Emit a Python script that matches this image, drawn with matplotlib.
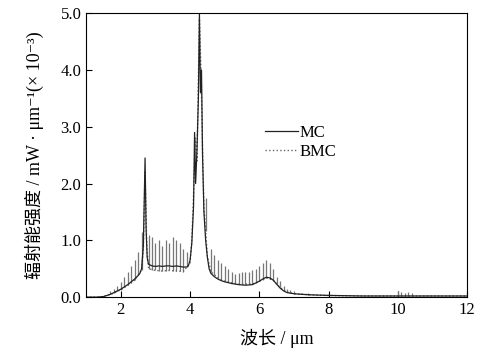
import numpy as np
import matplotlib
matplotlib.use("Agg")
import matplotlib.pyplot as plt

plt.rcParams["font.family"] = ["Liberation Serif", "Noto Sans CJK SC", "DejaVu Serif"]

# MC curve (um, x1e-3 mW/um)
mc_x = [1.0, 1.3, 1.5, 1.6, 1.7, 1.8, 1.9, 2.0, 2.1, 2.2, 2.3, 2.4, 2.5, 2.55, 2.6, 2.65,
        2.7, 2.73, 2.76, 2.8, 2.9, 3.0, 3.1, 3.2, 3.3, 3.4, 3.5, 3.6, 3.7, 3.8, 3.9, 3.95,
        4.0, 4.05, 4.1, 4.13, 4.16, 4.2, 4.24, 4.27, 4.3, 4.33, 4.36, 4.4, 4.45, 4.5, 4.55,
        4.6, 4.7, 4.8, 4.9, 5.0, 5.2, 5.4, 5.6, 5.8, 5.9, 6.0, 6.1, 6.2, 6.3, 6.4, 6.5,
        6.6, 6.7, 6.8, 7.0, 7.2, 7.5, 8.0, 8.5, 9.0, 9.5, 10.0, 10.5, 11.0, 11.5, 12.0]
mc_y = [0.0, 0.0, 0.01, 0.03, 0.05, 0.08, 0.11, 0.14, 0.18, 0.22, 0.27, 0.32, 0.38, 0.42, 0.5, 0.9,
        2.45, 1.2, 0.7, 0.58, 0.55, 0.54, 0.55, 0.54, 0.55, 0.55, 0.54, 0.55, 0.54, 0.53, 0.53, 0.55,
        0.65, 0.95, 1.6, 2.9, 2.0, 2.6, 3.5, 5.0, 3.6, 4.0, 2.5, 1.5, 1.0, 0.7, 0.5,
        0.42, 0.36, 0.32, 0.29, 0.27, 0.24, 0.22, 0.21, 0.22, 0.25, 0.28, 0.32, 0.35, 0.34, 0.3, 0.23,
        0.16, 0.11, 0.08, 0.06, 0.05, 0.04, 0.03, 0.025, 0.02, 0.02, 0.02, 0.02, 0.02, 0.02, 0.02]

# BMC curve
bmc_x = [1.0, 1.4, 1.6, 1.8, 2.0, 2.2, 2.4, 2.6, 2.65, 2.7, 2.75, 2.8, 3.0, 3.2, 3.4, 3.6, 3.8, 4.0,
         4.05, 4.1, 4.15, 4.2, 4.27, 4.32, 4.36, 4.4, 4.5, 4.6, 4.8, 5.0, 5.4, 5.8, 6.0, 6.2,
         6.4, 6.6, 6.8, 7.0, 7.5, 8.0, 9.0, 10.0, 11.0, 12.0]
bmc_y = [0.0, 0.0, 0.03, 0.07, 0.13, 0.21, 0.3, 0.48, 0.85, 2.2, 0.9, 0.5, 0.47, 0.46, 0.47, 0.46, 0.45, 0.6,
         1.0, 1.8, 2.8, 2.4, 4.9, 3.9, 2.6, 1.6, 0.72, 0.45, 0.34, 0.28, 0.23, 0.23, 0.28, 0.34,
         0.3, 0.17, 0.09, 0.06, 0.04, 0.03, 0.02, 0.02, 0.02, 0.02]

# BMC spike tops
spike_x = [1.7, 1.8, 1.9, 2.0, 2.1, 2.2, 2.3, 2.4, 2.5, 2.6, 2.8, 2.9, 3.0, 3.1, 3.2, 3.3, 3.4,
           3.5, 3.6, 3.7, 3.8, 3.9, 4.45, 4.6, 4.7, 4.8, 4.9, 5.0, 5.1, 5.2, 5.3, 5.4, 5.5, 5.6,
           5.7, 5.8, 5.9, 6.0, 6.1, 6.2, 6.3, 6.4, 6.5, 6.6, 6.7, 6.8, 6.9, 7.0, 7.2, 7.4,
           10.0, 10.1, 10.2, 10.3, 10.4]
spike_top = [0.1, 0.15, 0.2, 0.27, 0.35, 0.45, 0.55, 0.65, 0.8, 1.15, 1.1, 1.05, 0.95, 1.0, 0.9, 1.0, 0.95,
             1.05, 1.0, 0.95, 0.85, 0.8, 1.75, 0.85, 0.75, 0.65, 0.6, 0.55, 0.5, 0.45, 0.4, 0.42, 0.45, 0.45,
             0.45, 0.48, 0.5, 0.55, 0.6, 0.65, 0.6, 0.5, 0.35, 0.28, 0.2, 0.15, 0.12, 0.1, 0.08, 0.07,
             0.1, 0.09, 0.08, 0.09, 0.08]

fig = plt.figure(figsize=(4.79, 3.55), dpi=100)
ax = fig.add_axes([0.18, 0.163, 0.795, 0.8])

spike_lo = np.interp(spike_x, bmc_x, bmc_y)
ax.vlines(spike_x, spike_lo, spike_top, color="#777777", lw=0.9)
ax.plot(bmc_x, bmc_y, ls=":", color="#666666", lw=1.0, label="BMC")
ax.plot(mc_x, mc_y, ls="-", color="#222222", lw=0.9, label="MC")

ax.set_xlim(1, 12)
ax.set_ylim(0, 5.0)
ax.set_xticks([2, 4, 6, 8, 10, 12])
ax.set_yticks([0, 1, 2, 3, 4, 5])
ax.set_yticklabels(["0.0", "1.0", "2.0", "3.0", "4.0", "5.0"])
ax.tick_params(direction="in", labelsize=12, length=4, width=0.8)
for s in ax.spines.values():
    s.set_linewidth(0.8)

ax.set_xlabel("波长 / μm", fontsize=13, labelpad=8)
ax.set_ylabel("辐射能强度 / mW · μm⁻¹(× 10⁻³)", fontsize=13, labelpad=12)

h, l = ax.get_legend_handles_labels()
ax.legend(h[::-1], l[::-1], loc="upper left", bbox_to_anchor=(0.43, 0.66), frameon=False,
          fontsize=12, handlelength=2.0, handletextpad=0.1, labelspacing=0.2)

fig.savefig("out.png", dpi=100)
